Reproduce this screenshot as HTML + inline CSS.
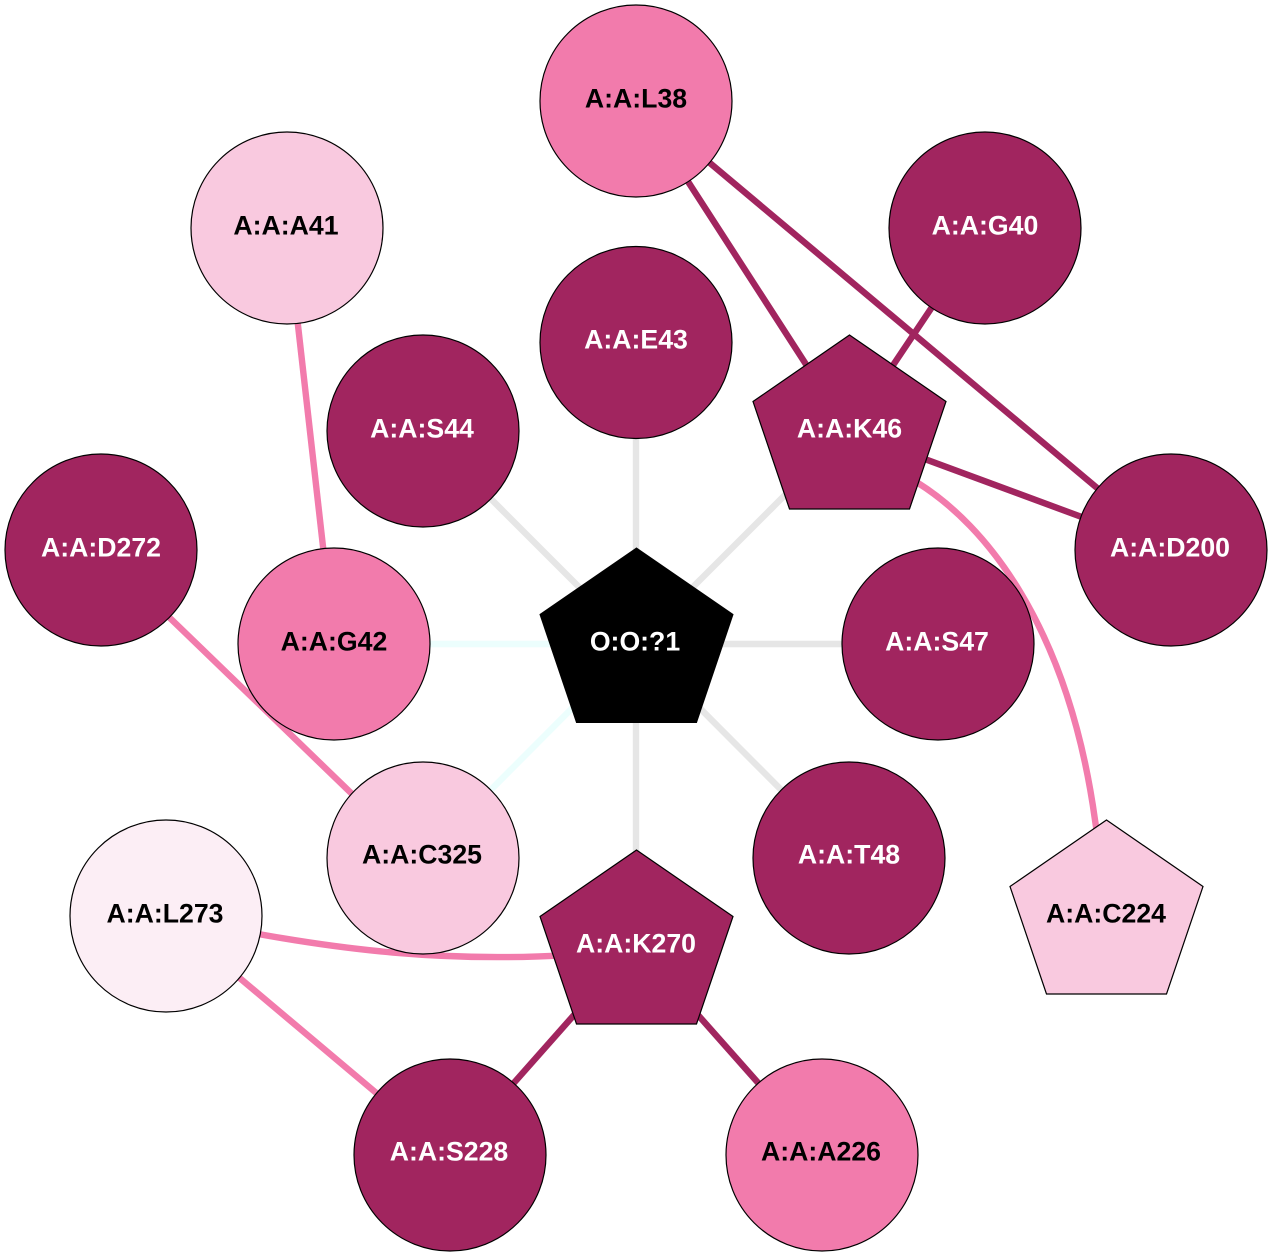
<!DOCTYPE html>
<html>
<head>
<meta charset="utf-8">
<style>
html,body{margin:0;padding:0;background:#fff;width:1272px;height:1256px;overflow:hidden}
svg{display:block}
text{font-family:"Liberation Sans",sans-serif;font-weight:bold;font-size:26.67px;text-anchor:middle}
.w{fill:#fff}.k{fill:#000}
.n{stroke:#000;stroke-width:1.2}
.d{fill:#A1255F}.p{fill:#F27BAC}.l{fill:#F9C9DF}.v{fill:#FCEEF5}
.e{fill:none;stroke-width:6.4}
.ed{stroke:#A1255F}.ep{stroke:#F27BAC}.eg{stroke:#E6E6E6}.ec{stroke:#ECFEFD}
</style>
</head>
<body>
<svg width="1272" height="1256" viewBox="0 0 1272 1256" xmlns="http://www.w3.org/2000/svg">
<rect width="1272" height="1256" fill="#fff"/>
<!-- central edges -->
<line class="e eg" x1="636" y1="644" x2="636" y2="342"/>
<line class="e eg" x1="636" y1="644" x2="423" y2="431"/>
<line class="e eg" x1="636" y1="644" x2="849" y2="431"/>
<line class="e eg" x1="636" y1="644" x2="938" y2="644"/>
<line class="e eg" x1="636" y1="644" x2="849" y2="858"/>
<line class="e eg" x1="636" y1="644" x2="636" y2="945"/>
<line class="e ec" x1="636" y1="644" x2="334" y2="644"/>
<line class="e ec" x1="636" y1="644" x2="423" y2="858"/>
<!-- other edges -->
<line class="e ed" x1="636" y1="101" x2="849" y2="431"/>
<line class="e ed" x1="636" y1="101" x2="1171" y2="550"/>
<line class="e ed" x1="985" y1="228" x2="849" y2="431"/>
<line class="e ed" x1="849" y1="431" x2="1171" y2="550"/>
<path class="e ep" d="M880 456 L918 483 C985 525 1068 625 1095 820 L1101 860"/>
<line class="e ep" x1="287" y1="228" x2="334" y2="644"/>
<line class="e ep" x1="101" y1="551.4" x2="423" y2="862.5"/>
<path class="e ep" d="M166 916 C330 950 450 968 636 950"/>
<line class="e ep" x1="166" y1="916" x2="450" y2="1155"/>
<line class="e ed" x1="636" y1="945" x2="450" y2="1155"/>
<line class="e ed" x1="636" y1="945" x2="822" y2="1155"/>
<!-- nodes -->
<circle class="n p" cx="636" cy="101" r="96"/>
<text class="k" x="636" y="107.500">A:A:L38</text>
<circle class="n l" cx="287" cy="228" r="96"/>
<text class="k" x="286" y="234.500">A:A:A41</text>
<circle class="n d" cx="985" cy="228" r="96"/>
<text class="w" x="985" y="234.500">A:A:G40</text>
<circle class="n d" cx="636" cy="342.500" r="96"/>
<text class="w" x="636" y="348.500">A:A:E43</text>
<circle class="n d" cx="423" cy="431" r="96"/>
<text class="w" x="422" y="437.500">A:A:S44</text>
<polygon class="n d" points="849.500,335 946,401.500 909.500,509 789.500,509 753,401.500"/>
<text class="w" x="849.500" y="437.500">A:A:K46</text>
<circle class="n d" cx="101" cy="550" r="96"/>
<text class="w" x="101" y="556.500">A:A:D272</text>
<circle class="n d" cx="1171" cy="550" r="96"/>
<text class="w" x="1170" y="556.500">A:A:D200</text>
<circle class="n p" cx="334" cy="644" r="96"/>
<text class="k" x="334" y="650.500">A:A:G42</text>
<circle class="n d" cx="938" cy="644" r="96"/>
<text class="w" x="937" y="650.500">A:A:S47</text>
<polygon points="636.500,548 733,614.500 696.500,722.500 576.500,722.500 540,614.500" fill="#000" stroke="#000" stroke-width="1"/>
<text class="w" x="635" y="650.500">O:O:?1</text>
<circle class="n l" cx="423" cy="858" r="96"/>
<text class="k" x="422" y="863.500">A:A:C325</text>
<circle class="n d" cx="849" cy="858" r="96"/>
<text class="w" x="849" y="863.500">A:A:T48</text>
<circle class="n v" cx="166" cy="916" r="96"/>
<text class="k" x="165" y="922.500">A:A:L273</text>
<polygon class="n l" points="1106.500,820 1203,886.500 1166.500,994 1046.500,994 1010,886.500"/>
<text class="k" x="1106" y="922.500">A:A:C224</text>
<polygon class="n d" points="636.500,850 733,916.500 696.500,1024 576.500,1024 540,916.500"/>
<text class="w" x="636" y="952.500">A:A:K270</text>
<circle class="n d" cx="450" cy="1155" r="96"/>
<text class="w" x="449" y="1160.500">A:A:S228</text>
<circle class="n p" cx="822" cy="1155" r="96"/>
<text class="k" x="821" y="1160.500">A:A:A226</text>
</svg>
</body>
</html>
